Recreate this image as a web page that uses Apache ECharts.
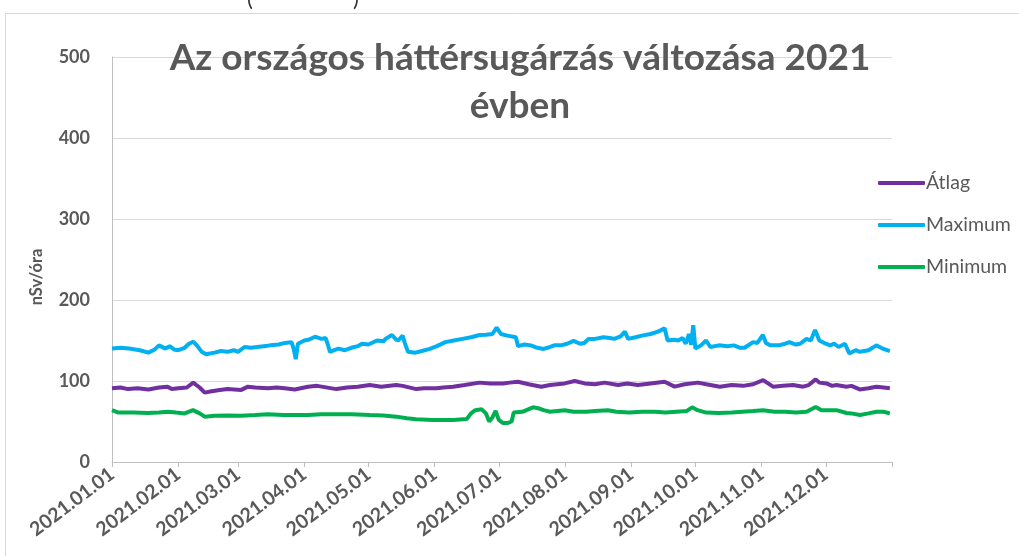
<!DOCTYPE html>
<html>
<head>
<meta charset="utf-8">
<script src="https://cdn.jsdelivr.net/npm/echarts@6/dist/echarts.min.js"></script>
<style>
  html, body { margin: 0; padding: 0; background: #fff; }
  #main { width: 1019px; height: 556px; }
</style>
</head>
<body>
<div id="main"></div>
<script>
// napok 2021.01.01-tol szamolva, ertekek nSv/ora
const atlagDay = [0, 4, 7.5, 12, 17, 22, 26, 28, 31, 35, 38, 41, 43.4, 46, 49.6, 54, 60.5, 63.6, 67, 73, 77, 80.8, 85.5, 91.7, 96, 105, 110, 115, 120.6, 126, 133, 136, 142.4, 146, 151.8, 155, 159.6, 165, 172, 177, 183, 186, 190, 195, 200.9, 205, 211.8, 216.5, 221.2, 226, 230.5, 236.8, 241, 246.1, 252, 258.6, 263.3, 268, 274.2, 278.1, 284.4, 290, 295.3, 300, 304.7, 309.3, 314, 318.7, 323.4, 326, 329.3, 331, 334.3, 337, 339, 343.7, 346, 349.9, 354, 357.7, 361, 364];
const atlagVal = [91, 92, 90, 91, 89.6, 92, 93, 90, 91, 92, 98, 92, 85.6, 87, 88.6, 90, 89, 93, 92, 91, 92, 91, 89.6, 93, 94, 90, 92, 93, 95, 93, 95, 94, 90, 91, 91, 92, 93, 95, 98, 97, 97, 98, 99, 96, 93, 95, 97, 100, 97, 96, 98, 95, 97, 95, 97, 99, 93, 96, 98, 96, 93, 95, 94, 96, 101, 93, 94, 95, 93, 95, 102, 98, 97, 94, 95, 93, 94, 89.6, 91, 93, 92, 91];

const maxDay = [0, 4, 8, 13, 17, 20, 22, 25, 27, 29, 31, 34, 36, 38, 40, 42, 44, 48, 51, 54, 57, 59, 62, 65, 68, 71, 74, 78, 81, 84, 85, 86, 87, 90, 92, 95, 98, 100, 101, 102, 104, 106, 109, 112, 115, 117, 120, 124, 127, 128, 131, 133, 134, 136, 137, 138.5, 142, 145, 148.7, 152, 156, 160, 164, 168, 172, 175, 178, 180, 182, 185, 189, 190, 193, 196, 199, 202, 205, 207, 210, 213, 216, 219, 221, 223, 226, 230, 233, 235, 238, 240, 241.5, 245, 248, 252, 255.5, 258.6, 260, 263, 265, 267, 268.5, 270, 271, 272, 273, 275.6, 278, 280, 284, 288, 291, 294, 296, 300, 302, 304.6, 306, 308, 312, 315, 317, 320, 322, 325, 327, 329, 331, 334, 336, 338, 340, 343, 345, 348, 350, 354, 357.7, 361, 364];
const maxVal = [140, 141, 140, 138, 135, 139, 144, 140, 143, 139, 138, 141, 146, 148.5, 143, 136, 133, 135, 137, 136, 138, 136, 142, 141, 142, 143, 144, 145, 147, 148, 140, 127, 146, 150, 151, 154.7, 152, 153, 145, 136, 138, 140, 138, 141, 143, 146, 145, 150, 149, 152, 156.8, 151, 150, 156, 147, 136, 135, 137, 139.6, 143, 148, 150, 152, 154, 156.8, 157, 158, 166, 158, 156, 154, 143, 145, 144, 141, 139.6, 142, 144, 144, 146, 149.5, 146, 147, 152, 152, 154, 153, 152, 155, 160.9, 152, 154, 156, 158, 161, 165, 150, 151, 150, 153, 146, 158, 145, 169, 140, 144, 150, 142, 144, 143, 144, 141, 141, 148, 147, 156.8, 147, 144, 144, 146, 148, 145, 146, 152, 150, 163, 150, 146, 144, 146, 142, 146, 134, 138, 136, 138, 144, 139.6, 137];

const minDay = [0, 3, 10, 16.8, 22, 26.2, 30, 34, 37.9, 41, 43.4, 48, 54, 60.5, 67, 73, 80, 86, 91.7, 98, 105, 112, 120.6, 127, 133, 138, 142.4, 150, 159.6, 166, 168, 170, 173, 175, 176.5, 178, 179.5, 181, 183, 185, 187, 188, 192, 197, 200, 202, 205, 211.8, 216, 222, 226, 232, 236, 242, 248, 254, 259, 264, 269, 271.5, 274, 278, 284, 290, 295, 300, 304.7, 310, 315, 320, 325, 329.3, 332, 336, 339, 343.7, 346, 350, 354, 357.7, 361, 364];
const minVal = [64, 61, 61, 60.5, 61, 62, 61, 60, 64, 60, 56, 57, 57.5, 57, 58, 59, 58, 58, 58, 59, 59, 59, 58, 57.5, 56, 54, 52.7, 52, 52, 53, 60, 64, 65, 60, 50, 55, 63, 52, 48, 48, 50, 61, 62, 67.5, 66, 64, 62, 64, 62, 62, 63, 64, 62, 61, 62, 62, 61, 62, 63, 67.5, 64, 61, 60.5, 61, 62, 63, 64, 62, 62, 61, 62, 68, 64, 64, 64, 60.5, 60, 58, 60, 62, 62, 60];

const yTicks = [0, 100, 200, 300, 400, 500];

const DAY = 86400000;
const t0 = new Date(2021, 0, 1).getTime();
// honapok elso napja (napban)
const monthStarts = [];
for (let m = 0; m < 12; m++) monthStarts.push(Math.round((new Date(2021, m, 1).getTime() - t0) / DAY));
const yearEnd = 365;

function pairs(days, vals) {
    return days.map((d, i) => [d, vals[i]]);
}

function fmt(day) {
    const d = new Date(t0 + Math.round(day) * DAY + 12 * 3600000);
    const mm = String(d.getMonth() + 1).padStart(2, '0');
    const dd = String(d.getDate()).padStart(2, '0');
    return d.getFullYear() + '.' + mm + '.' + dd;
}

const gray = '#595959';
const font = 'Lato';

const chart = echarts.init(document.getElementById('main'));
chart.setOption({
    animation: false,
    textStyle: {fontFamily: font},
    title: {
        text: 'Az országos háttérsugárzás változása 2021\névben',
        left: 520,
        top: 34,
        padding: 0,
        textAlign: 'center',
        textStyle: {fontFamily: font, fontSize: 37, fontWeight: 'bold', color: gray, lineHeight: 48}
    },
    legend: {
        orient: 'vertical',
        left: 873,
        top: 168,
        icon: 'roundRect',
        itemWidth: 47,
        itemHeight: 4,
        itemGap: 22,
        textStyle: {color: gray, fontSize: 19.5, fontFamily: font, padding: [0, 0, 0, -4]},
        data: ['Átlag', 'Maximum', 'Minimum']
    },
    graphic: [
        {type: 'rect', silent: true, shape: {x: 5.5, y: 13.5, width: 1100, height: 700},
            style: {fill: 'none', stroke: '#d9d9d9', lineWidth: 1}},
        {type: 'text', left: 247, top: -12, style: {text: '(', fontSize: 22, fill: '#333', fontFamily: font}},
        {type: 'text', left: 353, top: -12, style: {text: ')', fontSize: 22, fill: '#333', fontFamily: font}},
        {type: 'text', x: 37, y: 277, rotation: Math.PI / 2,
            style: {text: 'nSv/óra', fontSize: 16.5, fontWeight: 'bold', fill: gray, fontFamily: font,
                align: 'center', verticalAlign: 'middle'}}
    ],
    grid: {left: 112, right: 127, top: 57, bottom: 94},
    xAxis: {
        type: 'value',
        min: 0,
        max: yearEnd,
        axisLine: {lineStyle: {color: '#bfbfbf', width: 1}},
        axisTick: {show: true, length: 5, lineStyle: {color: '#bfbfbf'}, customValues: monthStarts.concat([yearEnd])},
        axisLabel: {
            customValues: monthStarts,
            rotate: 37,
            margin: 10,
            color: gray,
            fontSize: 19.5,
            fontWeight: 'bold',
            formatter: (v) => fmt(v)
        },
        splitLine: {show: false}
    },
    yAxis: {
        type: 'value',
        min: yTicks[0],
        max: yTicks[yTicks.length - 1],
        interval: 100,
        axisLine: {show: true, lineStyle: {color: '#bfbfbf', width: 1}},
        axisTick: {show: false},
        axisLabel: {color: gray, fontSize: 18, fontWeight: 'bold', margin: 22},
        splitLine: {lineStyle: {color: '#d9d9d9', width: 1}}
    },
    series: [
        {name: 'Átlag', type: 'line', data: pairs(atlagDay, atlagVal), showSymbol: false,
            color: '#7030A0', lineStyle: {width: 4, color: '#7030A0'}},
        {name: 'Maximum', type: 'line', data: pairs(maxDay, maxVal), showSymbol: false,
            color: '#00B0F0', lineStyle: {width: 4, color: '#00B0F0'}},
        {name: 'Minimum', type: 'line', data: pairs(minDay, minVal), showSymbol: false,
            color: '#00B050', lineStyle: {width: 4, color: '#00B050'}}
    ]
});
</script>
</body>
</html>
